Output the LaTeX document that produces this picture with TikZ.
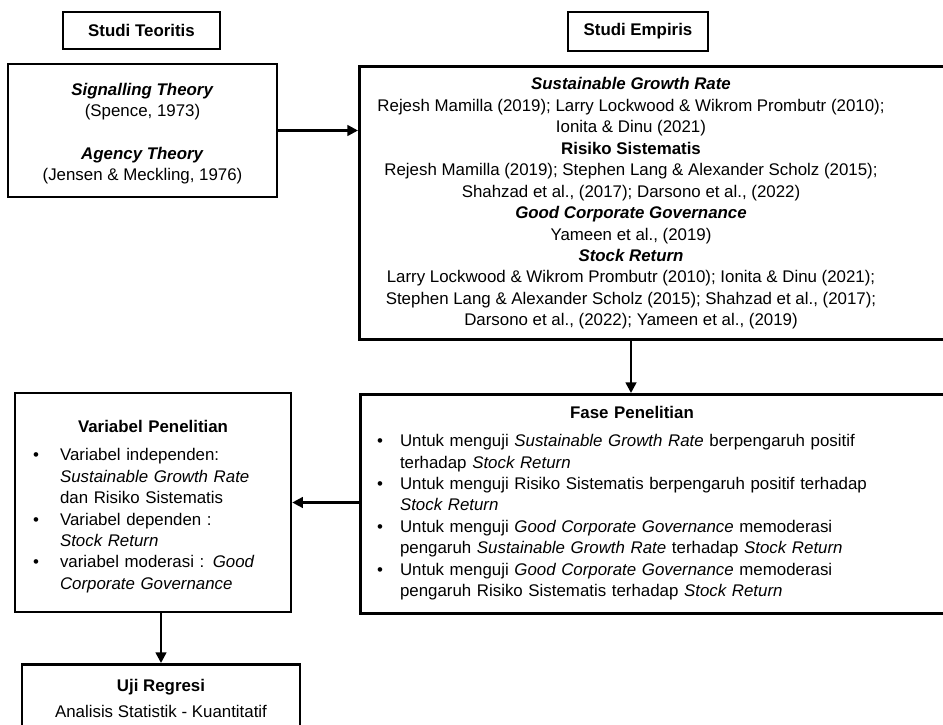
\documentclass[tikz,border=0pt]{standalone}
\usepackage{fontspec}
\setmainfont{Liberation Sans}
\usepackage{enumitem}
\usepackage{tikz}
\usetikzlibrary{arrows.meta}

\newcommand{\boxfont}{\fontsize{9.6}{12.2}\selectfont}
\setlist[itemize]{label=\textbullet, align=left, labelindent=0pt, labelwidth=0.15cm,
  labelsep=*, itemsep=0pt, parsep=0pt, topsep=4pt, partopsep=0pt}

\begin{document}
\begin{tikzpicture}[x=0.02cm, y=-0.02cm,
    box/.style={draw, line width=1.5pt, inner sep=0pt},
    lbl/.style={draw, line width=1.3pt, inner sep=0pt, font=\boxfont\bfseries},
    arr/.style={line width=1.4pt, -{Triangle[length=6pt,width=6pt]}}]
  \clip (0,0) rectangle (943,724);

  % Column headers
  \node[lbl, minimum width=3.14cm, minimum height=0.74cm] (teorilbl) at (141.5,30.5) {Studi Teoritis};
  \node[lbl, minimum width=2.8cm, minimum height=0.78cm] (empirislbl) at (638,31.5) {Studi Empiris};

  % Theory box
  \node[box, minimum width=5.38cm, minimum height=2.66cm, align=center, font=\boxfont] (teori) at (142.5,130.5)
    {\rule{0pt}{10.5pt}\textbf{\textit{Signalling Theory}}\\(Spence, 1973)\\[12.2pt]
     \textbf{\textit{Agency Theory}}\\(Jensen \& Meckling, 1976)};

  % Empirical studies
  \node[box, anchor=north west, minimum width=12.04cm, minimum height=5.46cm] (empbox) at (358,65) {};
  \node[font=\boxfont, align=center] (emptext) at (631,203.5)
    {\textbf{\textit{Sustainable Growth Rate}}\\
     Rejesh Mamilla (2019); Larry Lockwood \& Wikrom Prombutr (2010);\\
     Ionita \& Dinu (2021)\\
     \textbf{Risiko Sistematis}\\
     Rejesh Mamilla (2019); Stephen Lang \& Alexander Scholz (2015);\\
     Shahzad et al., (2017); Darsono et al., (2022)\\
     \textbf{\textit{Good Corporate Governance}}\\
     Yameen et al., (2019)\\
     \textbf{\textit{Stock Return}}\\
     Larry Lockwood \& Wikrom Prombutr (2010); Ionita \& Dinu (2021);\\
     Stephen Lang \& Alexander Scholz (2015); Shahzad et al., (2017);\\
     Darsono et al., (2022); Yameen et al., (2019)};

  % Research phase
  \node[box, anchor=north west, minimum width=12.02cm, minimum height=4.38cm] (fasebox) at (359,393) {};
  \node[font=\boxfont, text width=10.2cm, align=left] (fasetext) at (632,503)
    {{\centering\textbf{Fase Penelitian}\par}
     \begin{itemize}[leftmargin=0.46cm]
       \item Untuk menguji \textit{Sustainable Growth Rate} berpengaruh positif\\
             terhadap \textit{Stock Return}
       \item Untuk menguji Risiko Sistematis berpengaruh positif terhadap\\
             \textit{Stock Return}
       \item Untuk menguji \textit{Good Corporate Governance} memoderasi\\
             pengaruh \textit{Sustainable Growth Rate} terhadap \textit{Stock Return}
       \item Untuk menguji \textit{Good Corporate Governance} memoderasi\\
             pengaruh Risiko Sistematis terhadap \textit{Stock Return}
     \end{itemize}};

  % Research variables
  \node[box, minimum width=5.52cm, minimum height=4.38cm, text width=4.8cm, align=left, font=\boxfont] (variabel) at (153,502.5)
    {{\centering\rule{0pt}{11.5pt}\textbf{Variabel Penelitian}\par}
     \begin{itemize}[leftmargin=0.54cm]
       \item Variabel independen:\\ \textit{Sustainable Growth Rate}\\ dan Risiko Sistematis
       \item Variabel dependen :\\ \textit{Stock Return}
       \item variabel moderasi : \textit{Good}\\ \textit{Corporate Governance}
     \end{itemize}};

  % Regression test
  \node[box, anchor=north, minimum width=5.56cm, minimum height=1.36cm, align=center, font=\boxfont] (uji) at (161,663)
    {\textbf{Uji Regresi}\\[3pt]Analisis Statistik - Kuantitatif};

  % Arrows
  \draw[arr] (teori.east) -- (teori.east -| empbox.west);
  \draw[arr] (emptext.center |- empbox.south) -- (emptext.center |- fasebox.north);
  \draw[arr] (fasebox.west |- variabel.east) -- (variabel.east);
  \draw[arr] (uji.north |- variabel.south) -- (uji.north);
\end{tikzpicture}
\end{document}
